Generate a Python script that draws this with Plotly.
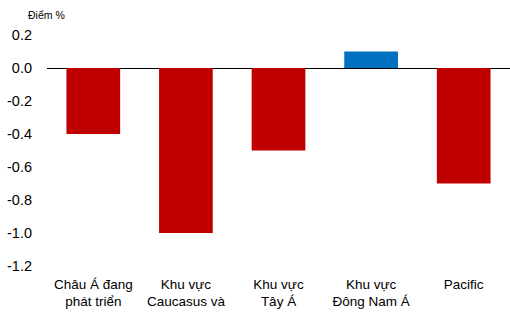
import plotly.graph_objects as go

categories = ["Châu Á đang<br>phát triển", "Khu vực<br>Caucasus và<br>Trung Á", "Khu vực<br>Tây Á", "Khu vực<br>Đông Nam Á", "Pacific"]
values = [-0.4, -1.0, -0.5, 0.1, -0.7]
colors = ["#C00000", "#C00000", "#C00000", "#0070C0", "#C00000"]
y_ticks = [0.2, 0.0, -0.2, -0.4, -0.6, -0.8, -1.0, -1.2]

fig = go.Figure(go.Bar(x=categories, y=values, marker=dict(color=colors, line=dict(width=0)), width=0.58))

fig.update_layout(
    width=510, height=312,
    margin=dict(l=47, r=0, t=35, b=46),
    paper_bgcolor="white", plot_bgcolor="white",
    font=dict(family="Liberation Sans, Arial, sans-serif", color="black", size=13),
    showlegend=False,
    annotations=[dict(text="Điểm %", xref="paper", yref="paper", x=-0.045, y=1.087,
                      xanchor="left", yanchor="middle", showarrow=False,
                      font=dict(size=10.5, color="black"))],
)
fig.update_xaxes(showgrid=False, showline=False, ticks="", tickfont=dict(size=13.5),
                 ticklabelstandoff=8, automargin=False)
fig.update_yaxes(range=[-1.2, 0.2], tickvals=y_ticks, ticktext=[f"{v:.1f}" for v in y_ticks],
                 showgrid=False, zeroline=True, zerolinecolor="black", zerolinewidth=1.3,
                 ticklabelstandoff=14, tickfont=dict(size=14.5), automargin=False)

fig.write_html("out.html", config={"displayModeBar": False},
               post_script="document.body.style.margin='0';document.body.style.overflow='hidden';")
